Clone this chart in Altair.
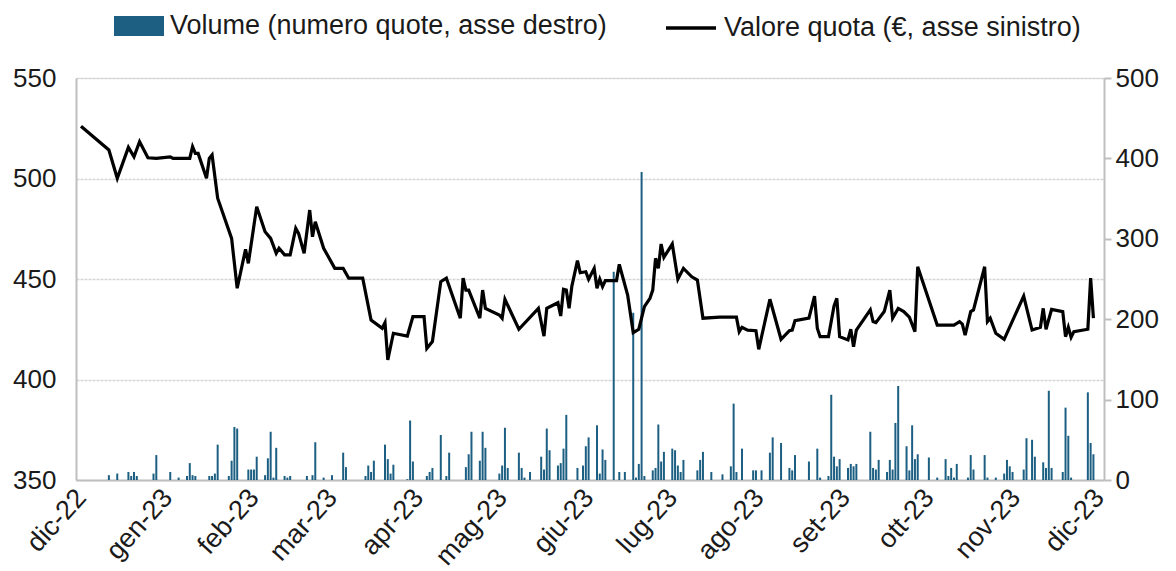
import altair as alt
import pandas as pd

# ---- price line (Valore quota, left axis) ----
line_dates = [
    "2022-12-01", "2022-12-11", "2022-12-14", "2022-12-18", "2022-12-20", "2022-12-22", "2022-12-25", "2022-12-28",
    "2023-01-02", "2023-01-03", "2023-01-09", "2023-01-10", "2023-01-11", "2023-01-12", "2023-01-15", "2023-01-16",
    "2023-01-17", "2023-01-19", "2023-01-24", "2023-01-26", "2023-01-29", "2023-01-30",
    "2023-02-02", "2023-02-05", "2023-02-07", "2023-02-09", "2023-02-10", "2023-02-12", "2023-02-14", "2023-02-16",
    "2023-02-17", "2023-02-19", "2023-02-21", "2023-02-22", "2023-02-23", "2023-02-26",
    "2023-03-02", "2023-03-05", "2023-03-07", "2023-03-12", "2023-03-15", "2023-03-19", "2023-03-20", "2023-03-21",
    "2023-03-23", "2023-03-28", "2023-03-30",
    "2023-04-03", "2023-04-04", "2023-04-06", "2023-04-09", "2023-04-11", "2023-04-16", "2023-04-17", "2023-04-18",
    "2023-04-19", "2023-04-23", "2023-04-24", "2023-04-25", "2023-04-30",
    "2023-05-01", "2023-05-02", "2023-05-07", "2023-05-14", "2023-05-16", "2023-05-17", "2023-05-21", "2023-05-22",
    "2023-05-23", "2023-05-24", "2023-05-25", "2023-05-26", "2023-05-28", "2023-05-29", "2023-05-31",
    "2023-06-01", "2023-06-03", "2023-06-04", "2023-06-05", "2023-06-06", "2023-06-07", "2023-06-11", "2023-06-12",
    "2023-06-15", "2023-06-17", "2023-06-19", "2023-06-21", "2023-06-23", "2023-06-24", "2023-06-25", "2023-06-26",
    "2023-06-27", "2023-06-28",
    "2023-07-01", "2023-07-03", "2023-07-05", "2023-07-08", "2023-07-10", "2023-07-12", "2023-07-18", "2023-07-24",
    "2023-07-25", "2023-07-26", "2023-07-28", "2023-07-31",
    "2023-08-01", "2023-08-05", "2023-08-09", "2023-08-12", "2023-08-13", "2023-08-14", "2023-08-19", "2023-08-21",
    "2023-08-22", "2023-08-23", "2023-08-26", "2023-08-28", "2023-08-29", "2023-08-30",
    "2023-09-02", "2023-09-03", "2023-09-04", "2023-09-05", "2023-09-10", "2023-09-11", "2023-09-12", "2023-09-15",
    "2023-09-17", "2023-09-18", "2023-09-20", "2023-09-22", "2023-09-24", "2023-09-26", "2023-09-27",
    "2023-10-04", "2023-10-10", "2023-10-12", "2023-10-13", "2023-10-14", "2023-10-16", "2023-10-17", "2023-10-21",
    "2023-10-22", "2023-10-23", "2023-10-25", "2023-10-28",
    "2023-11-04", "2023-11-07", "2023-11-10", "2023-11-11", "2023-11-12", "2023-11-14", "2023-11-18", "2023-11-19",
    "2023-11-20", "2023-11-21", "2023-11-22", "2023-11-27", "2023-11-28", "2023-11-29",
]
line_values = [
    526.0, 514.2, 500.1, 515.5, 510.8, 518.3, 510.3, 510.0,
    510.8, 510.0, 510.0, 515.8, 512.5, 512.5, 500.1, 510.0,
    511.7, 490.2, 470.2, 445.4, 464.8, 457.8,
    486.0, 473.5, 470.2, 462.8, 465.3, 462.0, 462.0, 475.2,
    472.7, 462.8, 484.3, 471.0, 478.5, 465.3,
    455.3, 455.3, 450.4, 450.4, 429.6, 425.5, 428.3, 409.7,
    423.0, 421.6, 431.3,
    431.3, 415.5, 418.9, 448.7, 450.4, 430.5, 450.4, 444.5,
    444.5, 430.5, 444.5, 435.4, 432.1,
    430.5, 439.9, 425.0, 435.4, 421.6, 435.4, 438.2, 431.6,
    444.9, 444.5, 435.4, 446.5, 459.1, 453.1, 453.6,
    449.9, 455.3, 445.4, 449.9, 446.2, 449.2, 449.2, 457.3,
    442.0, 423.3, 425.0, 436.3, 440.4, 444.5, 460.3, 455.3,
    467.4, 460.8,
    467.4, 449.9, 455.3, 451.1, 449.5, 430.5, 431.0, 431.0,
    423.8, 426.0, 424.6, 424.3,
    415.0, 439.9, 420.0, 424.3, 424.6, 429.3, 430.5, 441.5,
    425.5, 421.3, 421.3, 436.6, 440.4, 421.3,
    419.7, 425.0, 416.3, 424.6, 434.6, 428.8, 428.3, 433.8,
    444.5, 430.5, 435.4, 433.8, 431.0, 423.8, 456.1,
    427.1, 427.1, 428.8, 427.6, 422.1, 433.8, 434.6, 456.1,
    428.8, 430.5, 423.0, 420.0,
    441.5, 424.6, 426.0, 435.4, 425.0, 434.9, 433.8, 421.3,
    426.0, 421.0, 423.8, 425.0, 450.4, 430.5,
]

# ---- traded volume (numero quote, right axis) ----
vol_dates = [
    "2022-12-11", "2022-12-14", "2022-12-18", "2022-12-19", "2022-12-20", "2022-12-21", "2022-12-27", "2022-12-28",
    "2023-01-02", "2023-01-05", "2023-01-08", "2023-01-09", "2023-01-10", "2023-01-11", "2023-01-16", "2023-01-17",
    "2023-01-18", "2023-01-19", "2023-01-23", "2023-01-24", "2023-01-25", "2023-01-26", "2023-01-30", "2023-01-31",
    "2023-02-01", "2023-02-02", "2023-02-05", "2023-02-06", "2023-02-07", "2023-02-08", "2023-02-09", "2023-02-12",
    "2023-02-13", "2023-02-14", "2023-02-20", "2023-02-22", "2023-02-23", "2023-02-26",
    "2023-03-01", "2023-03-05", "2023-03-06", "2023-03-13", "2023-03-14", "2023-03-15", "2023-03-16", "2023-03-20",
    "2023-03-21", "2023-03-22", "2023-03-23", "2023-03-28", "2023-03-29", "2023-03-30",
    "2023-04-04", "2023-04-05", "2023-04-06", "2023-04-09", "2023-04-11", "2023-04-12", "2023-04-18", "2023-04-19",
    "2023-04-20", "2023-04-23", "2023-04-24", "2023-04-25", "2023-04-30",
    "2023-05-01", "2023-05-02", "2023-05-03", "2023-05-07", "2023-05-08", "2023-05-09", "2023-05-11", "2023-05-15",
    "2023-05-16", "2023-05-17", "2023-05-18", "2023-05-21", "2023-05-22", "2023-05-23", "2023-05-24", "2023-05-28",
    "2023-05-30", "2023-05-31",
    "2023-06-01", "2023-06-04", "2023-06-05", "2023-06-06", "2023-06-07", "2023-06-10", "2023-06-12", "2023-06-14",
    "2023-06-17", "2023-06-18", "2023-06-19", "2023-06-20", "2023-06-21", "2023-06-24", "2023-06-25", "2023-06-26",
    "2023-06-27", "2023-06-28",
    "2023-07-01", "2023-07-02", "2023-07-03", "2023-07-04", "2023-07-05", "2023-07-10", "2023-07-11", "2023-07-12",
    "2023-07-15", "2023-07-19", "2023-07-22", "2023-07-23", "2023-07-24", "2023-07-26", "2023-07-30", "2023-07-31",
    "2023-08-02", "2023-08-05", "2023-08-06", "2023-08-09", "2023-08-12", "2023-08-13", "2023-08-14", "2023-08-19",
    "2023-08-22", "2023-08-23", "2023-08-26", "2023-08-27", "2023-08-28", "2023-08-29", "2023-08-30",
    "2023-09-02", "2023-09-03", "2023-09-04", "2023-09-05", "2023-09-10", "2023-09-11", "2023-09-12", "2023-09-13",
    "2023-09-16", "2023-09-17", "2023-09-18", "2023-09-19", "2023-09-20", "2023-09-23", "2023-09-24", "2023-09-25",
    "2023-09-26", "2023-09-27",
    "2023-10-01", "2023-10-04", "2023-10-07", "2023-10-08", "2023-10-09", "2023-10-10", "2023-10-11", "2023-10-15",
    "2023-10-16", "2023-10-17", "2023-10-21", "2023-10-22", "2023-10-25", "2023-10-28", "2023-10-29", "2023-10-30",
    "2023-10-31",
    "2023-11-04", "2023-11-05", "2023-11-07", "2023-11-08", "2023-11-11", "2023-11-12", "2023-11-13", "2023-11-14",
    "2023-11-18", "2023-11-19", "2023-11-20", "2023-11-21", "2023-11-27", "2023-11-28", "2023-11-29",
]
vol_values = [
    6, 8, 10, 5, 10, 5, 8, 31,
    10, 3, 5, 21, 6, 5, 5, 5,
    8, 44, 5, 24, 66, 64, 13, 13,
    13, 29, 6, 27, 60, 3, 40, 5,
    3, 5, 5, 6, 47, 3,
    6, 34, 16, 5, 18, 10, 24, 44,
    26, 8, 19, 1, 74, 23,
    5, 10, 15, 56, 5, 34, 16, 32,
    60, 24, 60, 40, 8,
    18, 65, 15, 34, 15, 3, 10, 29,
    13, 64, 37, 18, 21, 39, 81, 15,
    18, 42,
    53, 68, 8, 38, 25, 259, 10, 10,
    208, 3, 20, 383, 5, 12, 15, 69,
    23, 35,
    39, 37, 18, 10, 25, 12, 25, 35,
    10, 7, 17, 95, 10, 39, 12, 12,
    12, 34, 53, 46, 15, 12, 31, 23,
    39, 3, 5, 106, 29, 17, 26,
    15, 20, 17, 20, 60, 15, 13, 25,
    10, 25, 13, 71, 117, 42, 12, 68,
    26, 32,
    28, 3, 26, 5, 15, 3, 20, 3,
    31, 13, 31, 3, 3, 8, 25, 17,
    10,
    13, 52, 50, 29, 22, 15, 111, 15,
    10, 90, 55, 3, 109, 46, 32,
]

month_names = ["gen", "feb", "mar", "apr", "mag", "giu", "lug", "ago", "set", "ott", "nov", "dic"]
vol_label = "Volume (numero quote, asse destro)"
line_label = "Valore quota (€, asse sinistro)"

line_df = pd.DataFrame({"data": line_dates, "valore": line_values, "serie": line_label})
vol_df = pd.DataFrame({"data": vol_dates, "volume": vol_values, "serie": vol_label})

FONT = "Liberation Sans"
TXT = "#1a1a1a"
AXIS_GREY = "#bfbfbf"

tick_values = [alt.DateTime(year=2022, month=12, date=1, utc=True)] + [
    alt.DateTime(year=2023, month=m, date=1, utc=True) for m in range(1, 13)
]
label_expr = (
    "['" + "','".join(month_names) + "'][utcmonth(datum.value)] + '-' + utcFormat(datum.value, '%y')"
)

x_enc = alt.X(
    "data:T",
    scale=alt.Scale(
        type="utc",
        domain=[
            alt.DateTime(year=2022, month=12, date=1, utc=True),
            alt.DateTime(year=2023, month=12, date=1, utc=True),
        ],
    ),
    axis=alt.Axis(
        title=None,
        values=tick_values,
        labelExpr=label_expr,
        labelAngle=-48,
        labelAlign="right",
        labelBaseline="middle",
        labelPadding=13,
        labelOverlap=False,
        labelBound=False,
        labelFlush=False,
        ticks=False,
        grid=False,
        domainColor=AXIS_GREY,
        domainWidth=2,
        labelFontSize=27,
        labelFont=FONT,
        labelColor=TXT,
    ),
)

bars = alt.Chart(vol_df).mark_bar(width=2).encode(
    x=x_enc,
    y=alt.Y(
        "volume:Q",
        scale=alt.Scale(domain=[0, 500], nice=False),
        axis=alt.Axis(
            title=None,
            orient="right",
            values=[0, 100, 200, 300, 400, 500],
            grid=False,
            ticks=True,
            tickSize=7,
            tickColor=AXIS_GREY,
            tickWidth=2,
            domainColor=AXIS_GREY,
            domainWidth=2,
            labelPadding=4,
            labelFontSize=26,
            labelFont=FONT,
            labelColor=TXT,
        ),
    ),
    color=alt.Color(
        "serie:N",
        scale=alt.Scale(domain=[vol_label], range=["#1c5f82"]),
        legend=alt.Legend(
            title=None,
            orient="none",
            legendX=38,
            legendY=-77,
            symbolType="M-1,-0.4H1V0.4H-1Z",
            symbolSize=2500,
            symbolStrokeWidth=0,
            labelFontSize=27,
            labelFont=FONT,
            labelColor=TXT,
            labelLimit=600,
            labelOffset=6,
        ),
    ),
)

line = alt.Chart(line_df).mark_line(strokeWidth=3.2, strokeJoin="miter").encode(
    x=x_enc,
    y=alt.Y(
        "valore:Q",
        scale=alt.Scale(domain=[350, 550], nice=False),
        axis=alt.Axis(
            title=None,
            orient="left",
            values=[350, 400, 450, 500, 550],
            grid=True,
            gridColor="#d4d4d4",
            gridWidth=1.5,
            gridDash=[3, 1],
            ticks=False,
            domainColor=AXIS_GREY,
            domainWidth=2,
            labelPadding=20,
            labelFontSize=26,
            labelFont=FONT,
            labelColor=TXT,
        ),
    ),
    stroke=alt.Stroke(
        "serie:N",
        scale=alt.Scale(domain=[line_label], range=["#000000"]),
        legend=alt.Legend(
            title=None,
            orient="none",
            legendX=588,
            legendY=-77,
            symbolType="stroke",
            symbolSize=2500,
            symbolStrokeWidth=3.5,
            labelFontSize=27,
            labelFont=FONT,
            labelColor=TXT,
            labelLimit=600,
            labelOffset=6,
        ),
    ),
)

chart = (
    alt.layer(bars, line)
    .resolve_scale(y="independent", color="independent", stroke="independent")
    .properties(
        width=1028,
        height=402,
        padding={"left": 68, "top": 70, "right": 64, "bottom": 92},
        autosize="none",
    )
    .configure_view(stroke=None)
    .configure(background="white")
)

chart.save("out.html", embed_options={"renderer": "svg", "actions": False})
